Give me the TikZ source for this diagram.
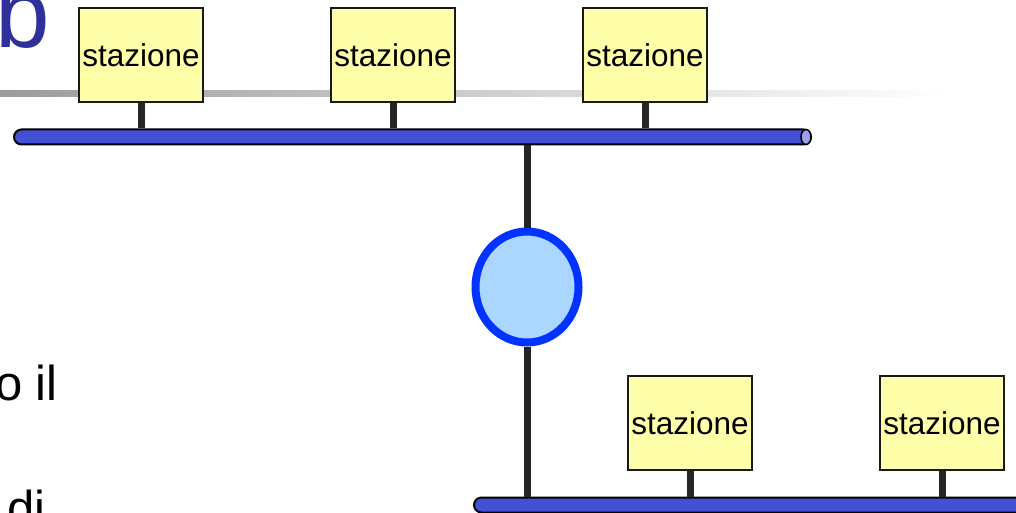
\documentclass[tikz,border=0pt]{standalone}
\usepackage{fontspec}
\setmainfont{Liberation Sans}
\usetikzlibrary{positioning,shapes.geometric}
\definecolor{BoxYellow}{HTML}{FFFFAA}
\definecolor{BusBlue}{HTML}{4150D4}
\definecolor{BusCap}{HTML}{9CA0EC}
\definecolor{BridgeFill}{HTML}{AAD6FF}
\definecolor{BridgeRing}{HTML}{0033FF}
\definecolor{TitleBlue}{HTML}{30309A}
\definecolor{StemGray}{HTML}{262626}

\begin{document}
\begin{tikzpicture}[x=1pt, y=-1pt,
    station/.style={draw=black!90, line width=2pt, fill=BoxYellow,
      minimum width=124pt, minimum height=94pt, inner sep=0pt, font=\fontsize{31.5}{36}\selectfont},
    bus/.style={draw=black, line width=2pt, fill=BusBlue, rounded corners=7.5pt,
      minimum height=15pt, inner sep=0pt},
    stem/.style={draw=StemGray, line width=7pt},
    bridge/.style={ellipse, draw=BridgeRing, line width=8pt, fill=BridgeFill,
      minimum width=103pt, minimum height=111pt, inner sep=0pt},
    bodytext/.style={inner sep=0pt, font=\fontsize{49}{58}\selectfont}
  ]
    \useasboundingbox (0,0) rectangle (1016,513);
    \clip (0,0) rectangle (1016,513);

    % title fragment and rule
    \node[inner sep=0pt, anchor=base west, text=TitleBlue, font=\fontsize{98}{110}\selectfont] (title) at (-5,48) {b};
    \shade[left color=black!39, right color=white] (0,91) rectangle (947,97);

    % body text fragments
    \node[bodytext, anchor=base east] (frag1) at (58,400) {o il};
    \node[bodytext, anchor=base east] (frag2) at (46,525) {di};

    % the two LANs
    \node[bus, minimum width=797pt] (lan1) at (412.5,137) {};
    \draw[draw=black, line width=1.5pt, fill=BusCap] ([xshift=-6pt]lan1.east) ellipse [x radius=5pt, y radius=7.5pt];
    \node[bus, minimum width=625pt] (lan2) at (786.5,505) {};

    % stations
    \node[station] (st1) at (141,55) {stazione};
    \node[station, right=126pt of st1] (st2) {stazione};
    \node[station, right=126pt of st2] (st3) {stazione};
    \node[station] (st4) at (690,423) {stazione};
    \node[station, right=126pt of st4] (st5) {stazione};

    \draw[stem] (st1.south) -- (st1.south |- lan1.north);
    \draw[stem] (st2.south) -- (st2.south |- lan1.north);
    \draw[stem] (st3.south) -- (st3.south |- lan1.north);
    \draw[stem] (st4.south) -- (st4.south |- lan2.north);
    \draw[stem] (st5.south) -- (st5.south |- lan2.north);

    % bridge
    \node[bridge] (br) at (527,287) {};
    \draw[stem] (br.north) -- (br.north |- lan1.south);
    \draw[stem] (br.south) -- (br.south |- lan2.north);
  \end{tikzpicture}
\end{document}
